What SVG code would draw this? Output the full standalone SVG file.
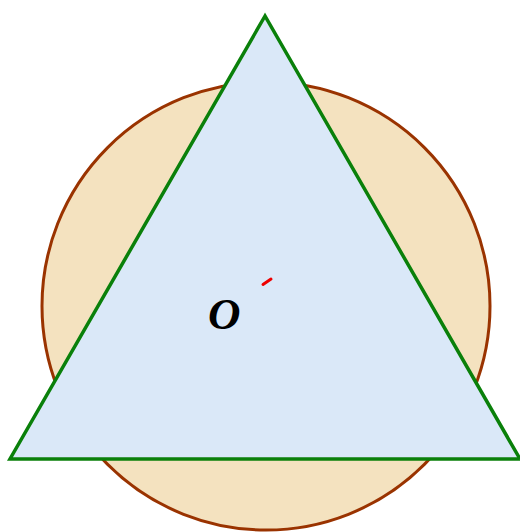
<svg xmlns="http://www.w3.org/2000/svg" width="520" height="532" viewBox="0 0 520 532">
  <style>
    .circle { fill: #f4e2bf; stroke: #9a3300; stroke-width: 3; }
    .tri { fill: #dae8f8; stroke: #0a800a; stroke-width: 3.5; stroke-linejoin: miter; }
    .label { font-family: "Liberation Serif", "Times New Roman", serif; font-style: italic; font-weight: bold; font-size: 45px; fill: #000; }
    .mark { stroke: #ee0000; stroke-width: 3; stroke-linecap: round; }
  </style>
  <rect width="520" height="532" fill="#ffffff"/>
  <g id="circle">
    <circle class="circle" cx="266" cy="306" r="224"/>
  </g>
  <g id="triangle">
    <polygon class="tri" points="265,16 10,459 520,459"/>
  </g>
  <g id="center">
    <line class="mark" x1="263" y1="284.5" x2="271" y2="279"/>
    <text class="label" x="208" y="329">O</text>
  </g>
</svg>
